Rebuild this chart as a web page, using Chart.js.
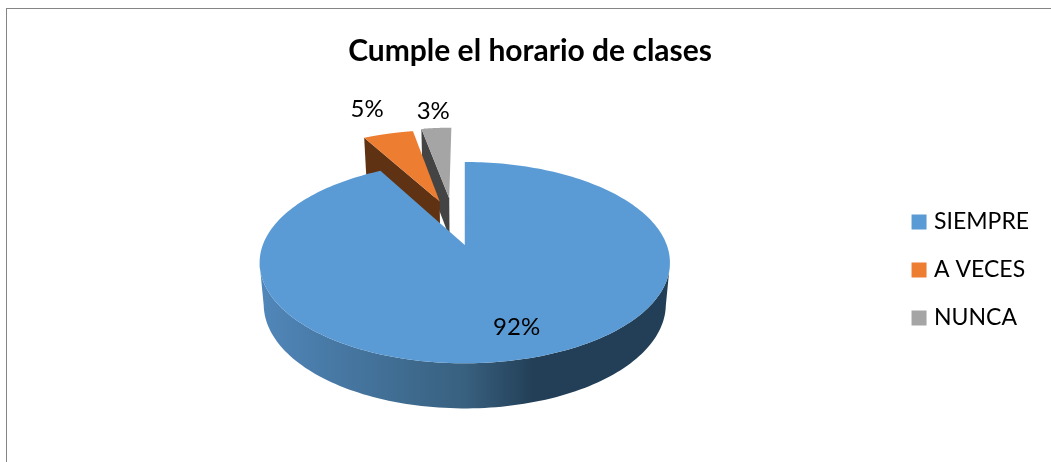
<!DOCTYPE html>
<html>
<head>
<meta charset="utf-8">
<style>
    html, body { margin: 0; padding: 0; background: #fff; overflow: hidden; }
    #frame { position: absolute; left: 6px; top: 8px; width: 1060px; height: 470px; border-left: 1px solid #858585; border-top: 1px solid #858585; }
</style>
</head>
<body>
<div id="frame"><canvas id="grafico" width="1048" height="480"></canvas></div>
<script src="https://cdn.jsdelivr.net/npm/chart.js@4/dist/chart.umd.min.js"></script>
<script>
const categories = ["SIEMPRE", "A VECES", "NUNCA"];
const values = [92, 5, 3];
const percentLabels = ["92%", "5%", "3%"];
const sliceColors = ["#5b9bd5", "#ed7d31", "#a5a5a5"];
const sliceOffsets = [0, 104, 106];

// Ajustes de la perspectiva del pastel 3D
const view = {
    tilt: 0.483,
    perspective: 0.175,
    lift: 25,
    shiftX: 9,
    depth: 41,
    shrink: 0.98,
    drift: [0, 8, -7],
    labelDist: [0.76, 1.44, 1.29],
    labelNudge: [8, -2.5, 0],
    walls: [null, "#5f3214", "#444444"]
};

function project(arc, X, Y, withDepth) {
    const d = 1 + view.perspective * Y / arc.outerRadius;
    let x = X / d;
    let y = arc.y - view.lift - view.tilt * Y / d;
    if (withDepth) {
        x *= view.shrink;
        y += view.depth / Math.sqrt(d);
    }
    return [arc.x + view.shiftX + x, y];
}

function sliceOrigin(arc, i) {
    const mid = (arc.startAngle + arc.endAngle) / 2;
    const off = arc.options.offset;
    return [Math.cos(mid) * off + view.drift[i], -Math.sin(mid) * off];
}

function rimPoint(arc, origin, angle, withDepth) {
    const R = arc.outerRadius;
    return project(arc, origin[0] + Math.cos(angle) * R, origin[1] - Math.sin(angle) * R, withDepth);
}

function fillPath(ctx, pts, color) {
    ctx.beginPath();
    pts.forEach((p, n) => n ? ctx.lineTo(p[0], p[1]) : ctx.moveTo(p[0], p[1]));
    ctx.closePath();
    ctx.fillStyle = color;
    ctx.fill();
}

const pie3d = {
    id: "pie3d",
    beforeDatasetDraw(chart, args) {
        const ctx = chart.ctx;
        const arcs = args.meta.data;
        // primero los trozos separados, el azul queda encima
        [2, 1, 0].forEach((i) => {
            const arc = arcs[i];
            const origin = sliceOrigin(arc, i);
            const top = [];
            const steps = 240;
            for (let s = 0; s <= steps; s++) {
                const a = arc.startAngle + (arc.endAngle - arc.startAngle) * s / steps;
                top.push({ a: a, p: rimPoint(arc, origin, a, false) });
            }
            const apexTop = project(arc, origin[0], origin[1], false);

            if (arc.options.offset > 0) {
                // cara del corte que mira hacia el frente
                fillPath(ctx, [
                    apexTop,
                    rimPoint(arc, origin, arc.startAngle, false),
                    rimPoint(arc, origin, arc.startAngle, true),
                    project(arc, origin[0], origin[1], true)
                ], view.walls[i]);
            } else {
                // el borde exterior solo se ve desde el punto mas ancho hacia delante
                const front = top.filter((t) => Math.sin(t.a) > view.perspective);
                const wall = front.map((t) => t.p);
                front.slice().reverse().forEach((t) => wall.push(rimPoint(arc, origin, t.a, true)));
                const left = arc.x + view.shiftX - arc.outerRadius;
                const grad = ctx.createLinearGradient(left, 0, left + 2 * arc.outerRadius, 0);
                grad.addColorStop(0, "#5086b9");
                grad.addColorStop(0.5, "#38607f");
                grad.addColorStop(0.67, "#233f57");
                grad.addColorStop(1, "#233f57");
                fillPath(ctx, wall, grad);
            }
            fillPath(ctx, [apexTop].concat(top.map((t) => t.p)), arc.options.backgroundColor);
        });
        return false;
    },
    afterDatasetsDraw(chart) {
        const ctx = chart.ctx;
        const arcs = chart.getDatasetMeta(0).data;
        ctx.save();
        ctx.font = "24px Lato";
        ctx.fillStyle = "#000";
        ctx.textAlign = "center";
        ctx.textBaseline = "middle";
        arcs.forEach((arc, i) => {
            const mid = (arc.startAngle + arc.endAngle) / 2;
            const origin = sliceOrigin(arc, i);
            const dist = arc.outerRadius * view.labelDist[i];
            const p = project(arc, origin[0] + Math.cos(mid) * dist, origin[1] - Math.sin(mid) * dist, false);
            ctx.fillText(percentLabels[i], p[0] + view.labelNudge[i], p[1]);
        });
        ctx.restore();
    }
};

new Chart(document.getElementById("grafico"), {
    type: "pie",
    data: {
        labels: categories,
        datasets: [{
            data: values,
            backgroundColor: sliceColors,
            borderWidth: 0,
            offset: sliceOffsets,
            radius: 202
        }]
    },
    options: {
        responsive: false,
        animation: false,
        events: [],
        layout: { padding: { left: 14, right: 15.9, top: 0, bottom: 18 } },
        plugins: {
            title: {
                display: true,
                text: "Cumple el horario de clases",
                color: "#000",
                font: { family: "Lato", size: 30, weight: "bold" },
                padding: { top: 24, bottom: 0 }
            },
            legend: {
                position: "right",
                fullSize: false,
                labels: {
                    usePointStyle: true,
                    pointStyle: "rect",
                    boxWidth: 7,
                    boxHeight: 15,
                    padding: 25,
                    color: "#000",
                    font: { family: "Lato", size: 23 }
                }
            },
            tooltip: { enabled: false }
        }
    },
    plugins: [pie3d]
});
</script>
</body>
</html>
